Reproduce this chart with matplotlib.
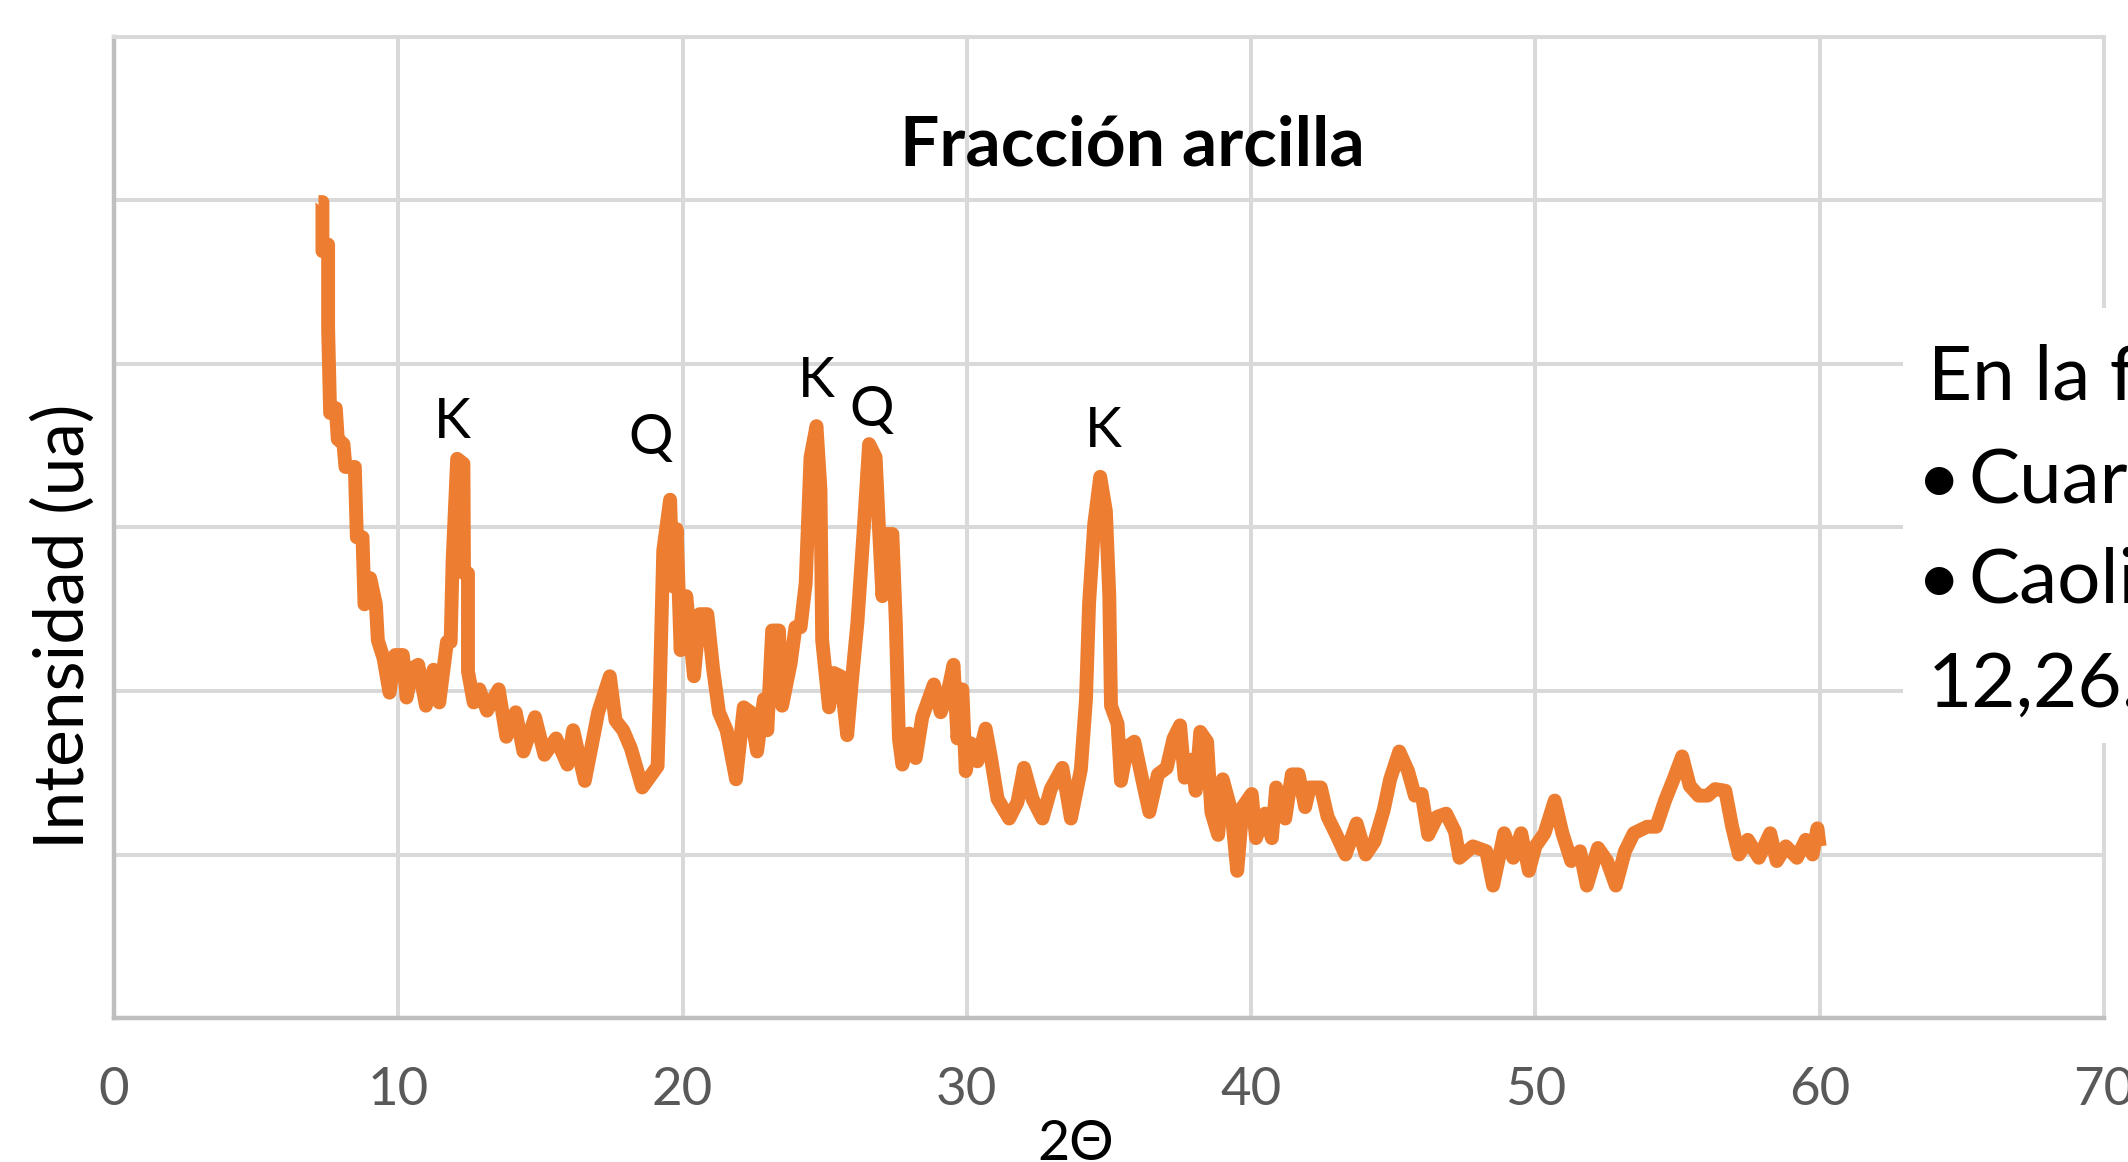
import matplotlib
matplotlib.use("Agg")
import matplotlib.pyplot as plt
from matplotlib import font_manager
from matplotlib.patches import Rectangle

# ── data (2-theta, arbitrary intensity units) ────────────────────────────────
two_theta = [
    7.19, 7.33, 7.33, 7.53, 7.53, 7.60, 7.80, 7.87, 8.07, 8.14,
    8.47, 8.54, 8.74, 8.81, 9.01, 9.21, 9.28, 9.48, 9.69, 9.89,
    10.16, 10.29, 10.5, 10.7, 10.97, 11.24, 11.44, 11.71, 11.84, 11.91,
    12.07, 12.29, 12.31, 12.45, 12.45, 12.65, 12.85, 13.12, 13.53, 13.8,
    14.13, 14.4, 14.81, 15.14, 15.55, 15.95, 16.15, 16.56, 17.03, 17.44,
    17.64, 17.91, 18.18, 18.58, 19.12, 19.19, 19.32, 19.56, 19.66, 19.79,
    19.93, 20.13, 20.4, 20.6, 20.87, 21.07, 21.28, 21.55, 21.88, 22.15,
    22.39, 22.62, 22.86, 22.98, 23.15, 23.39, 23.5, 23.8, 23.97, 24.15,
    24.33, 24.5, 24.71, 24.85, 24.91, 25.15, 25.32, 25.56, 25.79, 25.97,
    26.15, 26.38, 26.56, 26.79, 26.91, 27.03, 27.2, 27.38, 27.5, 27.61,
    27.73, 27.97, 28.2, 28.43, 28.84, 29.08, 29.31, 29.53, 29.67, 29.84,
    29.96, 30.14, 30.37, 30.66, 30.84, 31.08, 31.49, 31.78, 32.01, 32.31,
    32.66, 32.95, 33.36, 33.66, 34.01, 34.19, 34.3, 34.48, 34.69, 34.89,
    35.01, 35.07, 35.3, 35.42, 35.65, 35.89, 36.18, 36.42,
    36.72, 37.03, 37.27, 37.5, 37.66, 37.9, 38.05, 38.21, 38.45, 38.6,
    38.84, 39.0, 39.31, 39.51, 39.7, 40.02, 40.17, 40.49, 40.73, 40.88,
    41.2, 41.43, 41.67, 41.9, 42.06, 42.45, 42.69, 43.0, 43.32, 43.71,
    44.03, 44.34, 44.66, 44.89, 45.21, 45.52, 45.76, 46.0, 46.23, 46.54,
    46.86, 47.17, 47.33, 47.8, 48.27, 48.51, 48.9, 49.22, 49.5, 49.77,
    50.0, 50.32, 50.68, 50.95, 51.26, 51.57, 51.81, 52.2, 52.52, 52.83,
    53.15, 53.46, 53.93, 54.25, 54.56, 54.88, 55.16, 55.43, 55.74, 56.06,
    56.32, 56.68, 56.92, 57.16, 57.47, 57.86, 58.26, 58.49, 58.81, 59.2,
    59.51, 59.75, 59.92, 60.0,
]
intensity = [
    4.99, 4.99, 4.69, 4.73, 4.22, 3.70, 3.73, 3.54, 3.51, 3.37,
    3.37, 2.94, 2.94, 2.53, 2.69, 2.53, 2.31, 2.20, 1.99, 2.22,
    2.22, 1.96, 2.14, 2.16, 1.91, 2.13, 1.93, 2.30, 2.30, 2.80,
    3.42, 3.39, 2.72, 2.72, 2.12, 1.93, 2.01, 1.88, 2.01, 1.72,
    1.87, 1.63, 1.84, 1.61, 1.71, 1.55, 1.76, 1.45, 1.87, 2.09,
    1.82, 1.76, 1.65, 1.41, 1.54, 1.95, 2.86, 3.17, 2.64, 2.99,
    2.25, 2.58, 2.09, 2.47, 2.47, 2.14, 1.87, 1.76, 1.46, 1.90,
    1.87, 1.63, 1.95, 1.76, 2.37, 2.37, 1.91, 2.17, 2.39, 2.39,
    2.66, 3.43, 3.62, 3.23, 2.31, 1.90, 2.11, 2.09, 1.73, 2.09,
    2.42, 3.01, 3.51, 3.43, 2.99, 2.58, 2.96, 2.96, 2.42, 1.71,
    1.55, 1.74, 1.59, 1.84, 2.04, 1.87, 1.98, 2.16, 1.71, 2.01,
    1.51, 1.68, 1.57, 1.77, 1.60, 1.34, 1.22, 1.32, 1.53, 1.34,
    1.22, 1.40, 1.53, 1.22, 1.52, 1.95, 2.54, 3.02, 3.31, 3.10,
    2.58, 1.91, 1.80, 1.45, 1.66, 1.69, 1.45, 1.26,
    1.49, 1.53, 1.71, 1.79, 1.47, 1.58, 1.39, 1.75, 1.69, 1.26,
    1.12, 1.46, 1.26, 0.90, 1.29, 1.37, 1.10, 1.25, 1.10, 1.41,
    1.22, 1.49, 1.49, 1.29, 1.41, 1.41, 1.23, 1.12, 1.00, 1.19,
    1.00, 1.08, 1.27, 1.46, 1.63, 1.51, 1.36, 1.37, 1.12, 1.23,
    1.25, 1.14, 0.98, 1.05, 1.02, 0.81, 1.13, 0.98, 1.13, 0.90,
    1.05, 1.13, 1.33, 1.13, 0.96, 1.02, 0.81, 1.04, 0.96, 0.81,
    1.02, 1.13, 1.17, 1.17, 1.33, 1.47, 1.60, 1.42, 1.36, 1.36,
    1.40, 1.39, 1.17, 1.00, 1.09, 0.98, 1.13, 0.96, 1.05, 0.98,
    1.09, 1.00, 1.16, 1.05,
]

# peak labels: K = caolinita, Q = cuarzo (label position in data units)
peak_labels = ["K", "Q", "K", "Q", "K"]
peak_x = [11.90, 18.87, 24.72, 26.65, 34.79]
peak_y = [3.55, 3.45, 3.80, 3.62, 3.49]

x_ticks = [0, 10, 20, 30, 40, 50, 60, 70]
y_grid = [0, 1, 2, 3, 4, 5, 6]

side_lines = ["En la f", "Cuar", "Caoli", "12,26."]

COLOR_LINE = "#ED7D31"
COLOR_GRID = "#D9D9D9"
COLOR_AXIS = "#BFBFBF"
COLOR_TICK = "#595959"


def pick_font(*names):
    for n in names:
        try:
            font_manager.findfont(n, fallback_to_default=False)
            return n
        except Exception:
            continue
    return "DejaVu Sans"


MAIN = [pick_font("Lato", "Open Sans"), "DejaVu Sans"]

fig = plt.figure(figsize=(21.28, 11.62), dpi=100)
ax = fig.add_axes([0.0536, 0.1239, 0.9351, 0.8443])

ax.plot(two_theta, intensity, color=COLOR_LINE, linewidth=10,
        solid_joinstyle="round", solid_capstyle="butt", zorder=3)

ax.set_xlim(0, 70)
ax.set_ylim(0, 6)
ax.set_xticks(x_ticks)
ax.set_yticks(y_grid)
ax.set_yticklabels([])
ax.set_axisbelow(True)
ax.grid(True, color=COLOR_GRID, linewidth=2.9)
ax.tick_params(axis="both", length=0)
ax.tick_params(axis="x", pad=35, labelsize=38, labelcolor=COLOR_TICK)
for lab in ax.get_xticklabels():
    lab.set_family(MAIN)

for side in ("left", "bottom"):
    ax.spines[side].set_color(COLOR_AXIS)
    ax.spines[side].set_linewidth(3.2)
for side in ("top", "right"):
    ax.spines[side].set_color(COLOR_GRID)
    ax.spines[side].set_linewidth(2.9)

for lab, px, py in zip(peak_labels, peak_x, peak_y):
    ax.text(px, py, lab, ha="center", va="baseline", fontsize=40,
            family=MAIN, color="black", zorder=4)

fig.text(0.532, 0.858, "Fracción arcilla", ha="center", va="baseline",
         fontsize=50, fontweight="bold", family=MAIN)
fig.text(0.030, 0.461, "Intensidad (ua)", rotation=90, ha="center",
         va="center", fontsize=50, family=MAIN)
fig.text(0.5056, 0.0017, "2Θ", ha="center", va="baseline", fontsize=40,
         family=MAIN)

# text box overlapping the right edge of the chart
fig.patches.append(Rectangle((0.8943, 0.3606), 0.11, 0.3743,
                             transform=fig.transFigure, facecolor="white",
                             edgecolor="none", zorder=2))
FS_SIDE = 55
fig.text(0.9060, 0.6558, side_lines[0], fontsize=FS_SIDE, family=MAIN,
         va="baseline", zorder=4)
fig.text(0.9112, 0.5671, "•", fontsize=FS_SIDE, family=MAIN, ha="center",
         va="baseline", zorder=4)
fig.text(0.9248, 0.5671, side_lines[1], fontsize=FS_SIDE, family=MAIN,
         va="baseline", zorder=4)
fig.text(0.9112, 0.4811, "•", fontsize=FS_SIDE, family=MAIN, ha="center",
         va="baseline", zorder=4)
fig.text(0.9248, 0.4811, side_lines[2], fontsize=FS_SIDE, family=MAIN,
         va="baseline", zorder=4)
fig.text(0.9060, 0.3916, side_lines[3], fontsize=FS_SIDE, family=MAIN,
         va="baseline", zorder=4)

fig.savefig("out.png", dpi=100, facecolor="white")
